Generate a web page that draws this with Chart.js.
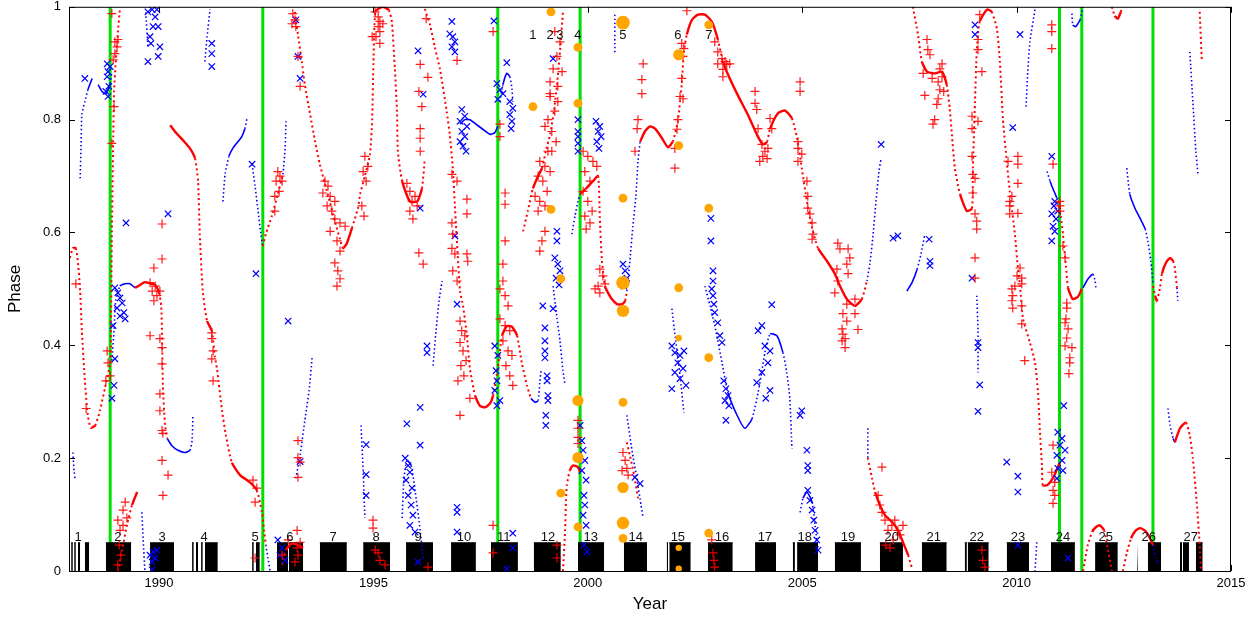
<!DOCTYPE html>
<html>
<head>
<meta charset="utf-8">
<script src="https://cdn.jsdelivr.net/npm/chart.js@4.4.1/dist/chart.umd.min.js"></script>
<style>
  html, body { margin: 0; padding: 0; background: #fff; }
  #wrap { width: 1259px; height: 619px; }
</style>
</head>
<body>
<div id="wrap"><canvas id="grafico" width="1259" height="619"></canvas></div>
<script>
const xTicks = [1990, 1995, 2000, 2005, 2010, 2015];
const yTicks = [0, 0.2, 0.4, 0.6, 0.8, 1];

// red model curves, one segment per list: [year, phase]
const redCurves = [
  [[1987.92,0.555],[1987.99,0.572],[1988.06,0.572],[1988.11,0.546],[1988.16,0.496],[1988.20,0.426],[1988.27,0.337],[1988.34,0.275],[1988.41,0.254],[1988.51,0.258],[1988.62,0.284],[1988.74,0.325],[1988.86,0.369],[1988.88,0.44],[1988.90,0.6],[1988.93,0.76],[1988.95,0.85],[1988.99,0.902],[1989.04,0.955],[1989.09,0.999]],
  [[1989.04,0.0],[1989.14,0.037],[1989.25,0.081],[1989.37,0.117],[1989.49,0.14]],
  [[1989.44,0.502],[1989.56,0.507],[1989.67,0.512],[1989.79,0.51],[1989.91,0.507],[1990.0,0.493],[1990.05,0.47],[1990.07,0.417],[1990.09,0.329],[1990.14,0.258],[1990.19,0.235]],
  [[1990.26,0.79],[1990.37,0.779],[1990.54,0.765],[1990.72,0.749],[1990.84,0.731],[1990.91,0.691],[1990.95,0.597],[1991.02,0.496],[1991.12,0.443],[1991.23,0.426],[1991.30,0.381],[1991.35,0.359],[1991.47,0.284],[1991.56,0.24],[1991.70,0.192],[1991.89,0.17],[1992.12,0.157],[1992.28,0.143],[1992.40,0.104],[1992.45,0.072],[1992.49,0.046]],
  [[1992.42,0.576],[1992.49,0.597],[1992.63,0.629],[1992.77,0.668],[1992.89,0.703]],
  [[1992.87,0.011],[1992.96,0.037],[1993.10,0.049],[1993.24,0.046],[1993.36,0.041]],
  [[1993.17,0.991],[1993.24,0.95],[1993.33,0.903],[1993.40,0.862],[1993.52,0.811],[1993.64,0.761],[1993.75,0.721],[1993.87,0.686],[1993.99,0.652],[1994.10,0.62],[1994.22,0.588],[1994.29,0.572],[1994.38,0.581],[1994.50,0.608],[1994.64,0.643],[1994.69,0.668],[1994.80,0.7],[1994.92,0.739],[1994.97,0.8],[1995.0,0.9],[1995.04,0.991],[1995.11,0.996],[1995.22,1.0],[1995.36,0.994],[1995.43,0.973],[1995.50,0.89],[1995.55,0.814],[1995.57,0.744],[1995.67,0.691],[1995.85,0.655],[1996.02,0.655],[1996.13,0.678],[1996.20,0.731]],
  [[1996.20,0.996],[1996.32,0.968],[1996.43,0.929],[1996.55,0.89],[1996.71,0.814],[1996.78,0.774],[1996.85,0.714],[1996.92,0.62],[1997.02,0.496],[1997.09,0.47],[1997.18,0.417],[1997.25,0.359],[1997.37,0.311],[1997.48,0.293],[1997.60,0.29],[1997.72,0.297],[1997.79,0.311],[1997.90,0.359],[1998.0,0.417],[1998.11,0.434],[1998.23,0.433],[1998.35,0.417],[1998.46,0.369],[1998.58,0.329],[1998.67,0.306]],
  [[1998.49,0.602],[1998.60,0.638],[1998.72,0.678],[1998.84,0.7],[1998.93,0.714],[1999.02,0.744],[1999.12,0.774],[1999.21,0.815],[1999.28,0.862],[1999.35,0.92],[1999.42,0.991]],
  [[1999.82,0.668],[1999.96,0.678],[2000.12,0.691],[2000.24,0.7],[2000.28,0.625],[2000.33,0.549],[2000.40,0.505],[2000.45,0.496],[2000.56,0.482],[2000.68,0.473],[2000.80,0.473],[2000.87,0.479],[2000.91,0.496]],
  [[2001.22,0.761],[2001.33,0.779],[2001.45,0.788],[2001.57,0.784],[2001.73,0.767],[2001.87,0.751],[2001.98,0.761],[2002.10,0.797],[2002.15,0.832],[2002.19,0.862],[2002.24,0.92],[2002.31,0.951],[2002.43,0.977],[2002.57,0.986],[2002.73,0.986],[2002.89,0.974],[2003.03,0.943],[2003.15,0.903],[2003.31,0.873],[2003.50,0.843],[2003.73,0.809],[2003.94,0.774],[2004.08,0.756],[2004.18,0.761],[2004.25,0.784],[2004.43,0.811],[2004.60,0.816],[2004.76,0.802],[2004.88,0.767],[2004.99,0.714],[2005.11,0.655],[2005.23,0.608],[2005.37,0.572],[2005.58,0.549],[2005.76,0.527],[2005.88,0.505],[2006.04,0.482],[2006.23,0.47],[2006.39,0.482],[2006.51,0.514]],
  [[1999.42,0.0],[1999.47,0.072],[1999.49,0.125],[1999.51,0.152],[1999.58,0.178],[1999.65,0.187],[1999.77,0.184],[1999.82,0.175]],
  [[2000.91,0.228],[2000.98,0.205],[2001.08,0.17],[2001.17,0.129]],
  [[2006.53,0.2],[2006.63,0.164],[2006.70,0.14],[2006.81,0.117],[2006.93,0.099],[2007.05,0.09],[2007.16,0.081],[2007.28,0.064],[2007.35,0.051],[2007.47,0.028],[2007.56,0.005]],
  [[2007.58,1.0],[2007.70,0.951],[2007.79,0.903],[2007.91,0.885],[2008.09,0.882],[2008.26,0.885],[2008.37,0.862],[2008.44,0.82],[2008.49,0.774],[2008.56,0.714],[2008.68,0.668],[2008.84,0.638],[2008.96,0.643],[2008.98,0.714],[2009.03,0.832],[2009.07,0.92],[2009.14,0.974],[2009.31,0.995],[2009.42,0.991],[2009.54,0.961],[2009.61,0.903],[2009.68,0.802],[2009.77,0.726],[2009.84,0.673],[2009.96,0.597],[2010.03,0.537],[2010.08,0.505],[2010.15,0.447],[2010.31,0.405],[2010.43,0.369],[2010.50,0.316],[2010.54,0.253],[2010.59,0.187],[2010.61,0.152],[2010.71,0.152],[2010.78,0.157],[2010.89,0.171],[2011.01,0.193]],
  [[2010.96,0.655],[2011.03,0.629],[2011.08,0.597],[2011.15,0.541],[2011.20,0.502],[2011.31,0.482],[2011.43,0.486],[2011.52,0.5]],
  [[2012.22,1.0],[2012.29,0.984],[2012.36,0.979],[2012.43,0.991],[2012.46,1.0]],
  [[2013.18,0.505],[2013.23,0.488],[2013.27,0.479],[2013.34,0.5],[2013.39,0.527],[2013.48,0.546],[2013.58,0.555],[2013.65,0.549],[2013.69,0.537],[2013.74,0.502]],
  [[2013.69,0.228],[2013.81,0.253],[2013.95,0.263],[2014.04,0.24],[2014.11,0.2],[2014.20,0.122],[2014.27,0.046],[2014.30,0.0]],
  [[2014.27,0.991],[2014.32,0.903]],
  [[2011.55,0.0],[2011.66,0.046],[2011.76,0.069],[2011.85,0.078],[2011.94,0.081],[2012.04,0.072],[2012.11,0.046],[2012.22,0.0]],
  [[2012.48,0.0],[2012.57,0.032],[2012.67,0.058],[2012.78,0.072],[2012.88,0.076],[2013.0,0.071],[2013.11,0.058],[2013.18,0.046]]
];

// blue model curves
const blueCurves = [
  [[1988.16,0.696],[1988.18,0.752],[1988.20,0.809],[1988.27,0.832],[1988.34,0.853],[1988.44,0.873]],
  [[1988.58,0.862],[1988.67,0.85],[1988.76,0.846],[1988.86,0.864],[1988.90,0.885]],
  [[1988.90,0.373],[1988.95,0.426],[1988.99,0.479],[1989.09,0.505],[1989.21,0.509],[1989.32,0.509],[1989.44,0.502]],
  [[1990.19,0.235],[1990.30,0.222],[1990.44,0.214],[1990.60,0.21],[1990.72,0.214],[1990.77,0.231],[1990.79,0.276]],
  [[1991.49,0.655],[1991.54,0.703],[1991.63,0.735],[1991.72,0.749],[1991.84,0.761],[1991.93,0.77],[1992.0,0.784],[1992.05,0.802]],
  [[1992.17,0.721],[1992.24,0.682],[1992.31,0.638],[1992.38,0.594],[1992.42,0.576]],
  [[1992.89,0.703],[1992.94,0.749],[1992.96,0.797]],
  [[1992.49,0.046],[1992.54,0.023],[1992.59,0.0]],
  [[1993.19,0.164],[1993.29,0.205],[1993.40,0.267],[1993.50,0.32],[1993.57,0.378]],
  [[1991.07,0.903],[1991.12,0.947],[1991.19,0.996]],
  [[1989.60,0.104],[1989.63,0.055],[1989.67,0.0]],
  [[1994.71,0.258],[1994.76,0.178],[1994.80,0.094]],
  [[1995.67,0.094],[1995.71,0.161],[1995.78,0.196],[1995.88,0.187],[1995.97,0.143],[1996.09,0.072],[1996.16,0.019]],
  [[1996.39,0.364],[1996.46,0.426],[1996.53,0.479],[1996.60,0.514]],
  [[1997.02,0.792],[1997.13,0.8],[1997.25,0.8],[1997.39,0.792],[1997.55,0.783],[1997.72,0.774],[1997.83,0.777],[1997.90,0.788]],
  [[1997.95,0.832],[1998.02,0.862],[1998.11,0.882],[1998.18,0.876],[1998.23,0.855],[1998.25,0.832]],
  [[1998.67,0.306],[1998.77,0.299],[1998.84,0.302],[1998.88,0.334],[1998.91,0.355]],
  [[1999.19,0.505],[1999.26,0.461],[1999.35,0.408],[1999.42,0.355],[1999.47,0.329]],
  [[1999.63,0.597],[1999.70,0.629],[1999.77,0.655],[1999.82,0.668]],
  [[2000.91,0.496],[2000.98,0.549],[2001.05,0.611],[2001.12,0.664],[2001.17,0.726],[2001.22,0.761]],
  [[2000.91,0.276],[2001.03,0.214],[2001.15,0.161],[2001.24,0.117],[2001.29,0.094]],
  [[2000.63,0.986],[2000.63,0.915]],
  [[2001.96,0.465],[2002.05,0.408],[2002.15,0.346],[2002.24,0.281]],
  [[2002.73,0.505],[2002.85,0.47],[2002.96,0.435],[2003.13,0.369],[2003.27,0.316],[2003.48,0.276],[2003.66,0.253],[2003.83,0.27],[2003.97,0.316],[2004.06,0.355],[2004.13,0.387],[2004.25,0.42],[2004.41,0.417],[2004.55,0.387],[2004.64,0.352],[2004.71,0.306],[2004.76,0.217]],
  [[2004.95,0.104],[2005.02,0.129],[2005.11,0.14],[2005.23,0.122],[2005.30,0.081],[2005.37,0.041]],
  [[2006.51,0.514],[2006.58,0.546],[2006.65,0.594],[2006.72,0.655],[2006.79,0.708],[2006.84,0.731]],
  [[2006.53,0.253],[2006.53,0.2]],
  [[2007.44,0.496],[2007.56,0.511],[2007.68,0.535],[2007.77,0.562],[2007.86,0.597]],
  [[2009.07,0.488],[2009.10,0.426],[2009.10,0.352]],
  [[2010.22,0.823],[2010.26,0.885],[2010.31,0.938],[2010.43,0.996]],
  [[2010.47,0.051],[2010.43,0.0]],
  [[2010.71,0.708],[2010.78,0.691],[2010.85,0.677],[2010.94,0.661]],
  [[2011.29,0.988],[2011.31,0.968],[2011.38,0.965],[2011.48,0.977],[2011.55,1.0]],
  [[2012.57,0.714],[2012.64,0.668],[2012.76,0.643],[2012.88,0.625],[2013.0,0.606],[2013.06,0.585],[2013.13,0.549],[2013.18,0.509]],
  [[2013.74,0.502],[2013.76,0.479]],
  [[2014.04,0.92],[2014.11,0.832],[2014.18,0.744],[2014.23,0.703]],
  [[2013.53,0.288],[2013.58,0.258],[2013.65,0.235],[2013.69,0.228]],
  [[2013.18,0.046],[2013.25,0.023],[2013.30,0.011]],
  [[2011.55,0.502],[2011.66,0.517],[2011.78,0.526],[2011.83,0.514],[2011.85,0.502]],
  [[1987.99,0.21],[1988.02,0.175],[1988.04,0.164]],
  [[1989.69,0.99],[1989.74,0.93]]
];

// red observations (+)
const redPlus = [
  [1988.90,0.988],[1988.97,0.938],[1989.02,0.929],[1988.97,0.917],[1989.04,0.942],[1988.93,0.906],[1988.95,0.823],[1988.90,0.758],
  [1988.79,0.39],[1988.81,0.369],[1988.86,0.346],[1988.76,0.337],[1988.30,0.288],[1988.06,0.509],
  [1989.04,0.09],[1989.09,0.072],[1989.07,0.046],[1989.11,0.028],[1989.04,0.011],[1989.16,0.108],[1989.21,0.122],[1989.25,0.094],[1989.16,0.081],
  [1989.79,0.511],[1989.84,0.496],[1989.91,0.505],[1989.95,0.488],[1990.02,0.496],[1989.88,0.479],
  [1989.79,0.417],[1990.02,0.412],[1990.07,0.396],[1990.07,0.367],[1990.02,0.314],[1990.02,0.284],[1990.07,0.249],[1990.09,0.244],[1990.07,0.196],[1990.21,0.17],[1990.09,0.134],
  [1990.07,0.615],[1990.07,0.553],[1989.88,0.537],
  [1991.23,0.422],[1991.23,0.412],[1991.26,0.39],[1991.23,0.376],[1991.26,0.337],
  [1992.19,0.161],[1992.28,0.147],[1992.24,0.122],[1992.24,0.023],
  [1992.77,0.708],[1992.82,0.7],[1992.87,0.691],[1992.73,0.691],[1992.80,0.673],[1992.70,0.664],[1992.70,0.638],
  [1993.24,0.231],[1993.24,0.201],[1993.29,0.193],[1993.24,0.166],
  [1992.87,0.028],[1993.01,0.055],[1993.22,0.072],[1993.22,0.041],[1993.17,0.016],[1993.29,0.051],[1993.24,0.028],
  [1993.12,0.988],[1993.17,0.977],[1993.10,0.97],[1993.19,0.965],[1993.24,0.912],[1993.29,0.859],
  [1993.87,0.691],[1993.94,0.682],[1993.82,0.67],[1993.99,0.664],[1994.10,0.655],[1993.92,0.647],[1994.03,0.638],[1994.10,0.624],[1994.22,0.617],[1994.34,0.611],[1993.99,0.602],[1994.15,0.585],[1994.22,0.567],[1994.10,0.546],[1994.17,0.532],[1994.22,0.518],[1994.15,0.505],
  [1995.04,0.991],[1995.11,0.982],[1995.15,0.974],[1995.11,0.965],[1995.22,0.97],[1995.15,0.956],[1995.06,0.947],[1995.15,0.935],[1994.97,0.947],
  [1994.80,0.735],[1994.87,0.717],[1994.76,0.708],[1994.83,0.691],[1994.73,0.647],[1994.78,0.629],
  [1995.78,0.687],[1995.85,0.673],[1995.97,0.664],[1995.90,0.655],[1996.02,0.647],[1995.85,0.638],[1995.92,0.624],
  [1996.09,0.898],[1996.27,0.875],[1996.06,0.85],[1996.13,0.823],[1996.09,0.784],[1996.09,0.767],[1996.09,0.744],[1996.95,0.905],[1996.23,0.979],[1996.06,0.564],[1996.16,0.544],
  [1996.83,0.703],[1996.95,0.691],[1997.18,0.659],[1997.18,0.633],[1996.83,0.617],[1996.85,0.597],[1996.83,0.572],[1996.90,0.562],[1997.18,0.562],[1997.20,0.549],[1996.85,0.532],[1996.95,0.514],
  [1997.02,0.443],[1997.06,0.426],[1997.13,0.417],[1997.02,0.405],[1997.09,0.39],[1997.16,0.373],[1997.04,0.364],[1997.11,0.346],[1996.97,0.337],[1997.25,0.306],[1997.02,0.276],
  [1997.79,0.956],[1997.95,0.792],[1997.95,0.77],[1998.07,0.67],[1998.07,0.65],[1998.07,0.585],[1998.02,0.544],[1998.02,0.514],
  [1997.95,0.5],[1998.07,0.488],[1998.14,0.47],[1997.95,0.447],[1998.07,0.435],[1998.18,0.426],[1998.02,0.408],[1998.14,0.39],[1998.23,0.382],[1998.09,0.364],[1998.18,0.346],[1998.25,0.329],
  [1997.79,0.081],[1997.79,0.032],
  [1999.23,0.956],[1999.35,0.938],[1999.28,0.912],[1999.40,0.885],[1999.30,0.859],[1999.12,0.841],[1999.23,0.815],[1999.07,0.8],[1999.00,0.788],[1999.16,0.779],[1999.26,0.761],[1999.07,0.744],[1998.88,0.726],[1999.00,0.717],[1999.12,0.708],[1998.84,0.7],[1998.95,0.691],[1999.05,0.673],[1998.77,0.664],[1998.88,0.655],[1999.00,0.647],[1998.84,0.638],[1999.00,0.602],[1998.93,0.585],[1998.88,0.567],[1999.19,0.89],[1999.12,0.867],[1999.12,0.846],[1999.30,0.832],[1999.16,0.744],
  [1999.89,0.744],[2000.00,0.735],[2000.12,0.726],[2000.21,0.717],[1999.93,0.708],[2000.05,0.691],[1999.89,0.673],[2000.00,0.655],[2000.10,0.638],[1999.93,0.629],[2000.05,0.617],[1999.96,0.606],
  [2000.28,0.535],[2000.35,0.523],[2000.40,0.509],[2000.24,0.505],[2000.17,0.5],[2000.28,0.493],
  [1999.77,0.267],[1999.77,0.253],[1999.77,0.237],[1999.77,0.226],[1999.28,0.023],[1999.28,0.046],
  [2000.82,0.21],[2000.87,0.196],[2000.91,0.182],[2000.94,0.17],[2000.80,0.178],
  [2001.29,0.899],[2001.26,0.871],[2001.26,0.846],[2001.17,0.8],[2001.15,0.784],[2001.10,0.744],
  [2002.31,0.993],[2002.19,0.935],[2002.24,0.926],[2002.22,0.912],[2002.19,0.873],[2002.15,0.841],[2002.22,0.837],[2002.10,0.8],[2002.08,0.783],[2002.03,0.749],[2002.03,0.714],
  [2002.96,0.938],[2003.03,0.92],[2003.13,0.908],[2003.20,0.903],[2003.15,0.889],[2003.24,0.898],[2003.31,0.899],[2003.15,0.876],[2003.03,0.899],
  [2003.90,0.85],[2003.90,0.829],[2003.94,0.818],[2004.95,0.867],[2004.95,0.85],[2003.97,0.784],
  [2004.06,0.756],[2004.13,0.744],[2004.08,0.735],[2004.01,0.726],[2004.18,0.731],[2004.20,0.749],[2004.25,0.802],[2004.29,0.784],
  [2004.90,0.761],[2004.90,0.749],[2004.99,0.739],[2004.90,0.726],
  [2005.11,0.691],[2005.13,0.664],[2005.13,0.643],[2005.18,0.633],[2005.23,0.617],[2005.25,0.597],[2005.23,0.588],
  [2005.83,0.581],[2005.88,0.571],[2006.07,0.571],[2006.11,0.555],[2006.04,0.544],[2005.81,0.535],[2006.07,0.527],[2005.83,0.514],
  [2005.76,0.493],[2006.04,0.473],[2006.23,0.482],[2005.95,0.456],[2006.23,0.456],[2006.04,0.443],[2005.93,0.429],[2005.95,0.42],[2006.00,0.412],[2006.00,0.396],[2006.30,0.428],[2005.93,0.408],
  [2007.91,0.942],[2007.93,0.924],[2007.98,0.915],[2007.82,0.882],[2008.03,0.873],[2008.26,0.899],[2008.21,0.89],[2008.17,0.867],[2008.21,0.853],[2008.17,0.837],[2008.14,0.827],[2008.09,0.8],[2008.05,0.792],[2007.86,0.843],[2008.26,0.876],[2008.30,0.85],
  [2009.14,0.986],[2009.10,0.942],[2009.10,0.924],[2009.19,0.885],[2008.96,0.806],[2008.96,0.784],[2009.10,0.797],[2008.96,0.735],[2008.98,0.703],[2009.03,0.696],[2008.98,0.67],[2009.03,0.633],[2009.07,0.62],[2009.07,0.606],[2009.03,0.555],[2009.03,0.519],
  [2010.03,0.735],[2010.03,0.721],[2010.03,0.687],[2009.80,0.726],[2009.89,0.664],[2009.84,0.655],[2009.84,0.647],[2010.03,0.634],[2009.84,0.633],
  [2010.08,0.537],[2010.01,0.523],[2010.12,0.519],[2009.96,0.505],[2010.12,0.509],
  [2010.82,0.968],[2010.82,0.956],[2010.82,0.926],[2010.85,0.721],[2011.01,0.655],[2011.01,0.647],[2011.01,0.638],[2011.08,0.576],[2011.13,0.555],
  [2009.89,0.5],[2009.91,0.488],[2009.89,0.479],[2009.91,0.466],[2010.12,0.47],[2010.12,0.438],[2010.19,0.373],
  [2011.17,0.475],[2011.17,0.466],[2011.15,0.447],[2011.13,0.44],[2011.20,0.429],[2011.17,0.413],[2011.13,0.399],[2011.29,0.396],[2011.24,0.378],[2011.24,0.369],[2011.22,0.35],
  [2010.85,0.223],[2010.82,0.175],[2010.89,0.157],[2010.85,0.143],[2010.89,0.134],[2010.85,0.12],
  [2009.19,0.037],[2009.21,0.019],[2009.26,0.007],
  [2006.86,0.184],[2006.77,0.134],[2006.81,0.117],[2006.86,0.104],[2006.93,0.09],[2007.00,0.072],[2007.09,0.081],[2007.16,0.09],[2007.23,0.072],[2007.28,0.064],[2007.35,0.081],[2007.12,0.055],[2006.95,0.046],[2007.05,0.041],
  [2002.89,0.055],[2002.92,0.032],[2002.94,0.019],[2002.96,0.007],
  [1994.99,0.09],[1994.99,0.076],[1995.04,0.037],[1995.11,0.032],[1995.15,0.019],[1995.27,0.011],[1996.27,0.007]
];

// blue observations (x)
const blueCross = [
  [1988.27,0.873],[1988.79,0.899],[1988.81,0.885],[1988.86,0.894],[1988.79,0.876],[1988.83,0.859],[1988.76,0.85],[1988.81,0.841],
  [1989.23,0.617],[1990.21,0.633],
  [1989.74,0.991],[1989.84,0.995],[1989.91,0.982],[1989.95,0.995],[1989.86,0.965],[1989.79,0.947],[1989.98,0.965],[1990.02,0.929],[1989.81,0.935],[1989.74,0.903],[1989.98,0.912],
  [1991.23,0.935],[1991.23,0.917],[1991.23,0.894],[1992.17,0.721],[1992.26,0.527],[1993.19,0.977],[1993.24,0.912],[1993.29,0.873],
  [1988.97,0.502],[1989.04,0.493],[1989.09,0.484],[1989.14,0.475],[1989.02,0.466],[1989.18,0.458],[1989.09,0.452],[1989.21,0.447],[1988.93,0.435],[1988.97,0.376],[1988.95,0.329],[1988.90,0.306],
  [1993.01,0.443],[1993.29,0.194],
  [1989.79,0.028],[1989.86,0.034],[1989.91,0.023],[1989.84,0.016],[1989.95,0.037],[1989.84,0.002],
  [1992.77,0.055],[1992.87,0.041],[1992.82,0.028],[1992.94,0.019],
  [1996.83,0.974],[1996.78,0.952],[1996.85,0.947],[1996.90,0.938],[1996.83,0.929],[1996.90,0.92],[1996.04,0.922],[1996.16,0.845],[1998.11,0.901],[1997.81,0.975],
  [1997.06,0.818],[1997.13,0.806],[1997.02,0.797],[1997.18,0.788],[1997.06,0.779],[1997.13,0.77],[1997.02,0.761],[1997.09,0.753],[1997.16,0.744],
  [1997.88,0.864],[1997.95,0.853],[1998.02,0.846],[1997.90,0.836],[1998.18,0.832],[1998.25,0.82],[1998.18,0.809],[1998.23,0.797],[1998.21,0.784],
  [1996.09,0.643],[1996.90,0.594],[1999.19,0.908],[1999.28,0.602],[1999.28,0.585],[1999.23,0.555],[1999.30,0.544],[1999.35,0.532],[1999.26,0.519],[1999.33,0.507],
  [1999.77,0.8],[1999.77,0.779],[1999.77,0.77],[1999.77,0.758],[1999.77,0.744],
  [2000.19,0.797],[2000.28,0.788],[2000.24,0.779],[2000.31,0.77],[2000.21,0.761],[2000.26,0.749],
  [2000.82,0.544],[2000.87,0.532],[2000.91,0.519],[2000.84,0.505],
  [1994.83,0.224],[1994.83,0.171],[1994.83,0.134],[1995.78,0.261],[1996.09,0.29],[1996.09,0.223],[1996.25,0.399],[1996.25,0.387],
  [1995.74,0.2],[1995.81,0.187],[1995.85,0.175],[1995.76,0.161],[1995.90,0.147],[1995.81,0.134],[1995.88,0.117],[1995.92,0.099],[1995.85,0.081],[1995.97,0.069],
  [1996.95,0.473],[1996.95,0.113],[1996.95,0.104],[1996.95,0.069],
  [1997.83,0.399],[1997.90,0.382],[1997.86,0.355],[1997.88,0.337],[1997.83,0.32],[1997.95,0.302],[1997.88,0.293],
  [1998.95,0.47],[1999.00,0.431],[1999.00,0.408],[1999.00,0.39],[1999.00,0.378],[1999.05,0.346],[1999.05,0.337],[1999.07,0.311],[1999.07,0.302],[1999.02,0.276],[1999.02,0.258],[1999.19,0.465],
  [1999.82,0.258],[1999.86,0.231],[1999.89,0.214],[1999.93,0.196],[1999.86,0.178],[1999.96,0.161],[1999.91,0.134],[1999.93,0.117],[1999.89,0.099],[1999.96,0.081],[1999.91,0.046],[1999.98,0.034],
  [2001.10,0.166],[2001.22,0.155],[1998.25,0.041],[1998.11,0.004],[1996.04,0.016],[1998.25,0.067],
  [2001.96,0.399],[2002.03,0.387],[2002.15,0.382],[2002.10,0.369],[2002.22,0.359],[2002.03,0.352],[2002.15,0.341],[2002.29,0.329],[2001.96,0.323],[2002.24,0.39],
  [2002.89,0.5],[2002.92,0.488],[2002.94,0.473],[2002.96,0.458],[2003.03,0.44],[2003.08,0.417],[2003.13,0.405],
  [2003.17,0.337],[2003.22,0.323],[2003.27,0.311],[2003.20,0.302],[2003.29,0.293],[2003.22,0.267],
  [2003.97,0.426],[2004.06,0.435],[2004.13,0.399],[2004.25,0.39],[2004.20,0.369],[2004.06,0.352],[2003.94,0.334],[2004.25,0.32],[2004.15,0.306],[2004.29,0.472],
  [2004.99,0.284],[2004.95,0.276],[2005.11,0.214],[2005.13,0.187],[2005.13,0.178],
  [2005.13,0.143],[2005.18,0.125],[2005.23,0.108],[2005.27,0.09],[2005.30,0.072],[2005.34,0.055],[2005.37,0.037],
  [2006.84,0.756],[2007.12,0.59],[2007.23,0.594],[2007.96,0.588],[2007.98,0.549],[2007.98,0.541],
  [2002.87,0.625],[2002.87,0.585],[2002.92,0.532],[2002.92,0.514],
  [2009.03,0.968],[2009.03,0.951],[2010.08,0.951],[2009.91,0.786],[2008.96,0.519],[2009.10,0.405],[2009.10,0.396],[2009.14,0.33],[2009.10,0.283],
  [2009.77,0.193],[2010.03,0.168],[2010.03,0.14],[2011.10,0.293],
  [2010.82,0.735],[2010.89,0.655],[2010.87,0.647],[2010.96,0.638],[2010.82,0.633],[2010.92,0.624],[2010.85,0.611],[2010.89,0.602],[2010.82,0.585],
  [2010.96,0.246],[2011.06,0.235],[2011.01,0.223],[2011.13,0.214],[2010.94,0.205],[2011.06,0.196],[2010.96,0.182],[2011.08,0.178],[2010.94,0.164],
  [2010.03,0.046],[2011.20,0.023]
];

// orange events and their relative weight
const orangePts = [
  [1999.14,0.991],[1998.72,0.823],[1999.14,0.641],[1999.37,0.518],[1999.77,0.928],[1999.77,0.829],[1999.77,0.302],[1999.77,0.201],[1999.37,0.138],[1999.77,0.078],
  [2000.82,0.972],[2000.82,0.661],[2000.82,0.511],[2000.82,0.461],[2000.82,0.299],[2000.82,0.148],[2000.82,0.085],[2000.82,0.058],
  [2002.12,0.915],[2002.12,0.754],[2002.82,0.968],[2002.82,0.643],[2002.12,0.502],[2002.12,0.413],[2002.82,0.378],[2002.82,0.067],[2002.12,0.041],[2002.12,0.004]
];
const orangeWeight = [2,2,2,2,2,2,3,3,2,2, 4,2,4,3.5,2,3,3.5,2, 3,2,2,2,2,1,2,2,1,1];

// observing seasons [start, end]
const barSpans = [
  [1987.95,1987.99],[1988.02,1988.06],[1988.11,1988.16],[1988.27,1988.37],
  [1988.76,1989.35],[1989.79,1990.35],
  [1990.77,1990.81],[1990.86,1990.91],[1990.98,1991.02],[1991.07,1991.37],
  [1992.17,1992.21],[1992.26,1992.35],
  [1992.75,1993.01],[1993.03,1993.36],[1993.75,1994.38],[1994.76,1995.39],[1995.76,1996.39],[1996.81,1997.39],
  [1997.74,1998.37],[1998.74,1999.37],[1999.77,2000.38],[2000.84,2001.38],
  [2001.84,2001.87],[2001.90,2002.40],[2002.80,2003.38],[2003.90,2004.39],
  [2004.78,2004.83],[2004.88,2005.37],[2005.76,2006.37],[2006.81,2007.35],[2007.79,2008.37],
  [2008.79,2008.84],[2008.86,2009.35],[2009.77,2010.29],[2010.80,2011.36],[2011.83,2012.36],
  [2012.81,2012.83],[2013.06,2013.37],[2013.81,2013.86],[2013.88,2014.02],[2014.18,2014.34]
];
const barTop = 0.05;

const greenYears = [1988.86, 1992.42, 1997.90, 1999.82, 2011.0, 2011.52, 2013.18];

const seasonNames = ['1','2','3','4','5','6','7','8','9','10','11','12','13','14','15','16','17','18','19','20','21','22','23','24','25','26','27'];
const seasonYears = [1988.11,1989.04,1990.07,1991.05,1992.24,1993.05,1994.06,1995.06,1996.04,1997.11,1998.04,1999.07,2000.07,2001.12,2002.10,2003.13,2004.13,2005.06,2006.07,2007.09,2008.07,2009.07,2010.03,2011.08,2012.08,2013.08,2014.06];
const seasonPhase = 0.06;

const eventNames = ['1','2','3','4','5','6','7'];
const eventYears = [1998.72, 1999.12, 1999.35, 1999.77, 2000.82, 2002.10, 2002.82];
const eventPhase = 0.95;

const toPts = arr => arr.map(p => ({ x: p[0], y: p[1] }));

function ingreme(ctx) {
  const dx = Math.abs(ctx.p1.x - ctx.p0.x);
  const dy = Math.abs(ctx.p1.y - ctx.p0.y);
  return dy > 3 * dx;
}

const datasets = [];

greenYears.forEach(ano => {
  datasets.push({ type: 'line', data: [{ x: ano, y: 0 }, { x: ano, y: 1 }], borderColor: '#00e000', borderWidth: 3, pointRadius: 0, order: 50 });
});

barSpans.forEach(b => {
  datasets.push({ type: 'line', data: [{ x: b[0], y: barTop }, { x: b[1], y: barTop }], borderColor: '#000', backgroundColor: '#000', borderWidth: 1, fill: 'origin', pointRadius: 0, order: 40 });
});

blueCurves.forEach(seg => {
  datasets.push({
    type: 'line', data: toPts(seg), borderColor: '#0000ff', borderWidth: 1.6, pointRadius: 0, tension: 0.2, order: 30,
    segment: { borderDash: ctx => ingreme(ctx) ? [1.5, 2.5] : undefined }
  });
});

redCurves.forEach(seg => {
  datasets.push({
    type: 'line', data: toPts(seg), borderColor: '#ff0000', borderWidth: 2.4, pointRadius: 0, tension: 0.2, order: 20,
    segment: {
      borderDash: ctx => ingreme(ctx) ? [2, 3] : undefined,
      borderWidth: ctx => ingreme(ctx) ? 2 : 2.4
    }
  });
});

datasets.push({
  type: 'scatter', data: toPts(blueCross), pointStyle: 'crossRot', pointRadius: 4.5,
  borderColor: '#0000ff', pointBorderColor: '#0000ff', pointBorderWidth: 1.2, order: 15
});
datasets.push({
  type: 'scatter', data: toPts(redPlus), pointStyle: 'cross', pointRadius: 4.5,
  borderColor: 'rgba(255,0,0,0.9)', pointBorderColor: 'rgba(255,0,0,0.9)', pointBorderWidth: 1.2, order: 10
});
datasets.push({
  type: 'scatter', data: toPts(orangePts), pointStyle: 'circle',
  pointRadius: orangeWeight.map(w => 2 + 1.2 * w),
  backgroundColor: '#ffa500', pointBackgroundColor: '#ffa500', borderWidth: 0, pointBorderWidth: 0, order: 5
});

const moldura = {
  id: 'moldura',
  afterDraw(chart) {
    const { ctx, chartArea: a, scales: { x, y } } = chart;
    ctx.save();
    ctx.strokeStyle = '#000';
    ctx.lineWidth = 1;
    ctx.strokeRect(a.left + 0.5, a.top + 0.5, a.right - a.left - 1, a.bottom - a.top);
    ctx.beginPath();
    xTicks.forEach(v => {
      const px = Math.round(x.getPixelForValue(v)) + 0.5;
      ctx.moveTo(px, a.bottom); ctx.lineTo(px, a.bottom - 6);
      ctx.moveTo(px, a.top); ctx.lineTo(px, a.top + 6);
    });
    yTicks.forEach(v => {
      const py = Math.round(y.getPixelForValue(v)) + 0.5;
      ctx.moveTo(a.left, py); ctx.lineTo(a.left + 6, py);
      ctx.moveTo(a.right, py); ctx.lineTo(a.right - 6, py);
    });
    ctx.stroke();

    ctx.fillStyle = '#111';
    ctx.font = '13px "Liberation Sans", Arial, sans-serif';
    ctx.textAlign = 'center';
    ctx.textBaseline = 'middle';
    seasonNames.forEach((t, i) => ctx.fillText(t, x.getPixelForValue(seasonYears[i]), y.getPixelForValue(seasonPhase)));
    eventNames.forEach((t, i) => ctx.fillText(t, x.getPixelForValue(eventYears[i]), y.getPixelForValue(eventPhase)));
    ctx.restore();
  }
};

Chart.defaults.font.family = '"Liberation Sans", Arial, sans-serif';

let meuGrafico = new Chart(document.getElementById('grafico'), {
  type: 'scatter',
  data: { datasets: datasets },
  options: {
    animation: false,
    responsive: false,
    layout: { padding: { top: 5, right: 28, left: 0, bottom: 0 } },
    plugins: { legend: { display: false }, tooltip: { enabled: false } },
    scales: {
      x: {
        type: 'linear', min: 1987.9, max: 2015,
        grid: { display: false, drawTicks: false },
        border: { display: false },
        afterBuildTicks: s => { s.ticks = xTicks.map(v => ({ value: v })); },
        afterFit: s => { s.height = 48; s.paddingLeft = 0; s.paddingRight = 0; },
        ticks: { padding: 5, color: '#000', font: { size: 13 }, maxRotation: 0, autoSkip: false, callback: v => String(v) },
        title: { display: true, text: 'Year', color: '#000', font: { size: 17 }, padding: { top: 0, bottom: 4 } }
      },
      y: {
        type: 'linear', min: 0, max: 1,
        grid: { display: false, drawTicks: false },
        border: { display: false },
        afterBuildTicks: s => { s.ticks = yTicks.map(v => ({ value: v })); },
        afterFit: s => { s.width = 69; s.paddingTop = 0; s.paddingBottom = 0; },
        ticks: { padding: 8, color: '#000', font: { size: 13 }, autoSkip: false, callback: v => String(v) },
        title: { display: true, text: 'Phase', color: '#000', font: { size: 17 }, padding: { top: 5, bottom: 0 } }
      }
    }
  },
  plugins: [moldura]
});
</script>
</body>
</html>
